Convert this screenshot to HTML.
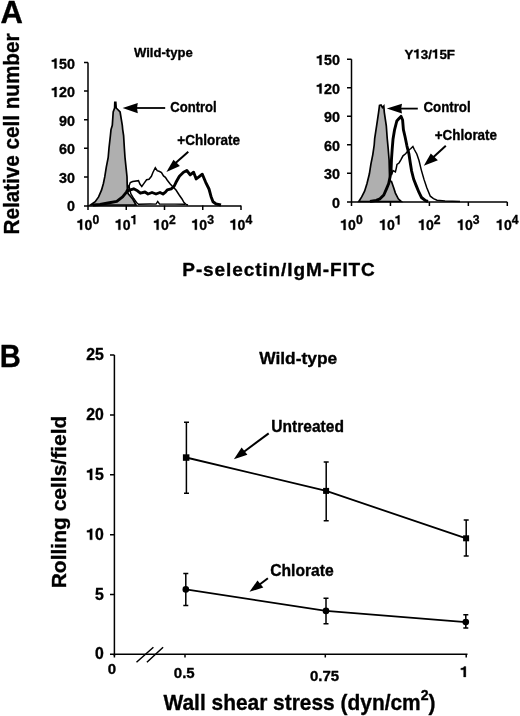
<!DOCTYPE html>
<html><head><meta charset="utf-8"><style>
html,body{margin:0;padding:0;background:#fff;width:520px;height:716px;overflow:hidden}
svg{display:block;will-change:transform}
text{font-family:"Liberation Sans",sans-serif;font-weight:bold;fill:#000;stroke:#000;stroke-width:0.35px;stroke-linejoin:round}
.o{fill:none;stroke:none}
</style></head><body>
<svg width="520" height="716" viewBox="0 0 520 716">
<!-- Panel letters -->
<text x="0.5" y="22.6" font-size="31">A</text>
<text transform="translate(-0.3,367.1) scale(0.94,1)" font-size="31">B</text>

<!-- ===== Panel A left ===== -->
<text transform="translate(19,134) rotate(-90)" text-anchor="middle" font-size="22.5" textLength="201" lengthAdjust="spacingAndGlyphs">Relative cell number</text>
<text x="134" y="56.8" font-size="13.3" textLength="58.7" lengthAdjust="spacingAndGlyphs">Wild-type</text>
<g stroke="#000" stroke-width="1.5" fill="none">
  <path d="M88,62.5V206.2M84,62.5H88M84,91.1H88M84,119.7H88M84,148.3H88M84,176.9H88M84,205.9H241"/>
  <path d="M88,205.5V210M126.25,205.5V210M164.5,205.5V210M202.75,205.5V210M241,205.5V210"/>
</g>
<g font-size="14.3" text-anchor="end">
  <text x="75" y="68.5"><tspan class="o">1</tspan>50</text><text x="75" y="97"><tspan class="o">1</tspan>20</text><text x="75" y="125.5">90</text>
  <text x="75" y="154">60</text><text x="75" y="182.5">30</text><text x="75" y="211">0</text>
</g>
<g font-size="15">
  <text x="88" y="229.8" text-anchor="middle" textLength="22.4" lengthAdjust="spacingAndGlyphs"><tspan class="o">1</tspan>0<tspan font-size="13" dy="-5.6">0</tspan></text>
  <text x="126.25" y="229.8" text-anchor="middle" textLength="22.4" lengthAdjust="spacingAndGlyphs"><tspan class="o">1</tspan>0<tspan font-size="13" dy="-5.6"><tspan class="o">1</tspan></tspan></text>
  <text x="164.5" y="229.8" text-anchor="middle" textLength="22.4" lengthAdjust="spacingAndGlyphs"><tspan class="o">1</tspan>0<tspan font-size="13" dy="-5.6">2</tspan></text>
  <text x="202.75" y="229.8" text-anchor="middle" textLength="22.4" lengthAdjust="spacingAndGlyphs"><tspan class="o">1</tspan>0<tspan font-size="13" dy="-5.6">3</tspan></text>
  <text x="241" y="229.8" text-anchor="middle" textLength="22.4" lengthAdjust="spacingAndGlyphs"><tspan class="o">1</tspan>0<tspan font-size="13" dy="-5.6">4</tspan></text>
</g>
<!-- grey control histogram -->
<path d="M90.5,205 L95.2,201.7 L98.6,196.9 L101.5,190.2 L103.4,183.5 L104.8,176.7 L106.3,167.1 L108.2,157.5 L109,148 L110.4,135.7 L111,129.6 L112.3,125.3 L113.2,112 L114.6,108 L114.8,102.4 L115.8,102.4 L116.2,108 L120.1,112 L122.3,125.3 L122.7,129.6 L123.6,135.7 L124.4,148.7 L125,157.5 L126,167.1 L127,176.7 L127.2,185 L127.5,192 L128.4,194 L131,197 L133,199.5 L136,205 Z" fill="#afafaf" stroke="#000" stroke-width="1.7"/>
<!-- thin lower curve -->
<path d="M128.8,185 L130.8,193.7 L133.7,198.5 L136.5,202.5 L138.5,204.2 L150,204 L156,204.1 L157.7,201.4 L159.5,204 L175,204.1 L185,204.3" fill="none" stroke="#000" stroke-width="1.4"/>
<!-- thin chlorate curve -->
<path d="M126,191 L127.9,188.8 L130.3,182.6 L132.7,181.6 L138.5,180.7 L139.9,184 L141.8,186.4 L143.8,183.6 L146.6,179.7 L149,179.2 L151.4,176.3 L152.9,172.5 L155.3,167.7 L157.2,170.6 L159.6,171.5 L161.5,172.5 L163.5,175.9 L165.4,177.3 L167.3,180.2 L170.2,184 L173.1,186.9 L176,190 L179.2,195 L182,199 L184,202.5 L186,204.4 L188,205" fill="none" stroke="#000" stroke-width="1.5"/>
<!-- thick untreated curve -->
<path d="M93,205 L100,204.5 L108,203 L116.8,201.3 L122.6,196.9 L126.5,192.1 L128.8,190.3 L133.7,188.8 L137.5,190.8 L140.4,193.2 L145,192 L148,194 L152,192.5 L156,194 L160,192.5 L163,194 L165.4,192.2 L167.3,189.8 L171.2,188.8 L174,186.5 L176,182.3 L179.4,176.2 L183.5,172.2 L186.8,170.5 L190.2,174.9 L193.6,172.2 L196.2,178.9 L198.9,176.9 L202.3,174.2 L205.7,182.3 L209,189 L211,196.4 L213,201.8 L215.8,203.8 L221,205" fill="none" stroke="#000" stroke-width="2.9" stroke-linejoin="round"/>
<!-- Control arrow -->
<path d="M136,108H165.2" stroke="#000" stroke-width="1.8"/>
<path d="M122.6,108L137.8,102.9L137,108L137.8,113.2Z" fill="#000"/>
<text x="170.3" y="111.8" font-size="14" textLength="46.4" lengthAdjust="spacingAndGlyphs">Control</text>
<!-- Chlorate arrow -->
<path d="M188.3,151.7L175,163.5" stroke="#000" stroke-width="2"/>
<path d="M166.4,171.9L173.5,159.8L179.9,165.9Z" fill="#000"/>
<text x="177.3" y="145.2" font-size="14" textLength="62.6" lengthAdjust="spacingAndGlyphs">+Chlorate</text>

<!-- ===== Panel A right ===== -->
<text x="404.5" y="58.5" font-size="13.3" textLength="50.5" lengthAdjust="spacingAndGlyphs">Y<tspan class="o">1</tspan>3/<tspan class="o">1</tspan>5F</text>
<g stroke="#000" stroke-width="1.5" fill="none">
  <path d="M351.5,59.2V201.9M347,59.2H351.5M347,87.7H351.5M347,116.2H351.5M347,144.8H351.5M347,173.3H351.5M347,201.9H507.3"/>
  <path d="M351.5,201.9V206M390.45,201.9V206M429.4,201.9V206M468.35,201.9V206M507.3,201.9V206"/>
</g>
<g font-size="14.3" text-anchor="end">
  <text x="340" y="65"><tspan class="o">1</tspan>50</text><text x="340" y="93.5"><tspan class="o">1</tspan>20</text><text x="340" y="122">90</text>
  <text x="340" y="150.5">60</text><text x="340" y="179">30</text><text x="340" y="207.5">0</text>
</g>
<g font-size="15">
  <text x="351.5" y="230.0" text-anchor="middle" textLength="22.4" lengthAdjust="spacingAndGlyphs"><tspan class="o">1</tspan>0<tspan font-size="13" dy="-5.6">0</tspan></text>
  <text x="390.45" y="230.0" text-anchor="middle" textLength="22.4" lengthAdjust="spacingAndGlyphs"><tspan class="o">1</tspan>0<tspan font-size="13" dy="-5.6"><tspan class="o">1</tspan></tspan></text>
  <text x="429.4" y="230.0" text-anchor="middle" textLength="22.4" lengthAdjust="spacingAndGlyphs"><tspan class="o">1</tspan>0<tspan font-size="13" dy="-5.6">2</tspan></text>
  <text x="468.35" y="230.0" text-anchor="middle" textLength="22.4" lengthAdjust="spacingAndGlyphs"><tspan class="o">1</tspan>0<tspan font-size="13" dy="-5.6">3</tspan></text>
  <text x="507.3" y="230.0" text-anchor="middle" textLength="22.4" lengthAdjust="spacingAndGlyphs"><tspan class="o">1</tspan>0<tspan font-size="13" dy="-5.6">4</tspan></text>
</g>
<path d="M358.8,201.5 L361.7,196.9 L364.6,191.2 L367,183.5 L369.4,173.8 L370.9,164.2 L372.8,154.6 L374.2,145 L374.7,138.3 L376.6,125.8 L378.6,112.3 L379.5,105.4 L381,105 L382.5,107.5 L383.8,106 L384.3,112.3 L386.3,125.8 L387.2,138.3 L388.2,148.8 L389.1,160 L389.5,175 L390.5,181.5 L391.5,181.5 L393.5,187.3 L395.4,193.1 L398.3,198.8 L401.2,201.5 Z" fill="#afafaf" stroke="#000" stroke-width="1.7"/>
<path d="M391.5,175 L393,170.5 L395.4,171.9 L396.3,168.1 L397,164.4 L399,163 L401,159.7 L403,155.8 L405.6,153.8 L408.3,150.5 L410.9,148.5 L412.9,146.5 L414.3,149.5 L416.8,154 L419,160.5 L421.2,169.6 L424,179.4 L426.8,187.8 L430.3,196.2 L433.5,198.6 L437,200.2 L445,201.1 L460,201.4" fill="none" stroke="#000" stroke-width="1.5"/>
<path d="M370,201.5 L376.2,200.3 L380,198.8 L383.8,195 L386.7,188.3 L388.7,183.5 L390.1,176.7 L391,171.9 L391.5,159 L392.2,149 L393,139.3 L394.6,129.6 L396.8,121 L399,118.5 L401,116.4 L402.6,120 L403.4,129.6 L405,136.5 L406.9,145.8 L408.9,153.8 L410.3,163 L411.6,171 L413.6,179 L416.2,185.6 L418.9,192.2 L421.5,197.5 L425.5,200.7 L428,201.5" fill="none" stroke="#000" stroke-width="2.9" stroke-linejoin="round"/>
<path d="M400,108.6H417.8" stroke="#000" stroke-width="1.8"/>
<path d="M386.8,108.6L402,103.8L401.2,108.6L402,113.4Z" fill="#000"/>
<text x="423.4" y="111.8" font-size="14" textLength="47.3" lengthAdjust="spacingAndGlyphs">Control</text>
<path d="M445.8,145.8L433,157.5" stroke="#000" stroke-width="2"/>
<path d="M423.8,165.8L430.8,153.5L437.9,160.2Z" fill="#000"/>
<text x="434.8" y="140.3" font-size="14" textLength="62.2" lengthAdjust="spacingAndGlyphs">+Chlorate</text>

<text x="182.3" y="276.2" font-size="19" textLength="192.5" lengthAdjust="spacing">P-selectin/IgM-FITC</text>

<!-- ===== Panel B ===== -->
<text transform="translate(66,502) rotate(-90)" text-anchor="middle" font-size="21">Rolling cells/field</text>
<text x="259.2" y="364.2" font-size="17.2" textLength="78" lengthAdjust="spacingAndGlyphs">Wild-type</text>
<g stroke="#000" stroke-width="1.5" fill="none">
  <path d="M114.4,355V656M110,355H114.4M110,414.9H114.4M110,474.8H114.4M110,534.7H114.4M110,594.6H114.4M110,654.2H467.5"/>
  <path d="M114.4,654.2V657.5M185,654.2V657.5M325.3,654.2V657.5M466.2,654.2V657.5"/>
  <path d="M136.5,662.3L153.4,647.3M146.9,662.3L163.1,647.3"/>
</g>
<g font-size="15.8" text-anchor="end">
  <text x="103.8" y="360">25</text><text x="103.8" y="420">20</text><text x="103.8" y="479.9"><tspan class="o">1</tspan>5</text>
  <text x="103.8" y="539.8"><tspan class="o">1</tspan>0</text><text x="103.8" y="599.6">5</text><text x="103.8" y="659.3">0</text>
</g>
<g font-size="15" text-anchor="middle">
  <text x="111.8" y="673.8">0</text>
  <text x="184.3" y="677.7">0.5</text>
  <text x="324.6" y="680.6">0.75</text>
  <text x="464.3" y="677"><tspan class="o">1</tspan></text>
</g>
<text x="163.5" y="710" font-size="22.2" textLength="272" lengthAdjust="spacingAndGlyphs">Wall shear stress (dyn/cm<tspan font-size="15" dy="-10">2</tspan><tspan dy="10">)</tspan></text>

<!-- data: untreated -->
<g stroke="#000" stroke-width="1.5" fill="none">
  <path d="M186.4,422.2V493.3M184,422.2H189M184,493.3H189"/>
  <path d="M326.2,462V520.7M323.7,462H328.7M323.7,520.7H328.7"/>
  <path d="M466.2,519.9V556M463.7,519.9H468.7M463.7,556H468.7"/>
  <path d="M186.1,457.5L326.2,490.9L466.2,538.4" stroke-width="1.8"/>
  <path d="M185.8,573.6V605.6M183.3,573.6H188.3M183.3,605.6H188.3"/>
  <path d="M326,598.2V623.8M323.5,598.2H328.5M323.5,623.8H328.5"/>
  <path d="M465.8,614.8V628.1M463.3,614.8H468.3M463.3,628.1H468.3"/>
  <path d="M185.8,589.4L326,610.9L465.8,622.1" stroke-width="1.8"/>
</g>
<rect x="182.9" y="454.3" width="6.5" height="6.5" fill="#000"/>
<rect x="323.1" y="487.9" width="6" height="6" fill="#000"/>
<rect x="463.1" y="535.3" width="6" height="6" fill="#000"/>
<circle cx="185.8" cy="589.4" r="3.3" fill="#000"/>
<circle cx="326" cy="610.9" r="3.3" fill="#000"/>
<circle cx="465.8" cy="622.1" r="3.3" fill="#000"/>
<!-- labels and arrows -->
<text x="271.3" y="432.3" font-size="15.6" textLength="72.6" lengthAdjust="spacingAndGlyphs">Untreated</text>
<path d="M268.7,433.4L243,452.5" stroke="#000" stroke-width="2"/>
<path d="M233.9,459.2L241.6,447.4L247.4,454.7Z" fill="#000"/>
<text x="270.2" y="575.8" font-size="15.6" textLength="63.6" lengthAdjust="spacingAndGlyphs">Chlorate</text>
<path d="M267.9,578.3L259,585" stroke="#000" stroke-width="2"/>
<path d="M249.5,591.8L257.5,580.5L263.3,587.5Z" fill="#000"/>
<g id="ones" fill="#000" stroke="#000" stroke-width="20"><path transform="translate(51.14,68.50) scale(0.01430,-0.01430)" d="M232,0L382,0L382,700L262,700C244,640 190,596 45,586L45,476L232,476Z"/><path transform="translate(51.14,97.00) scale(0.01430,-0.01430)" d="M232,0L382,0L382,700L262,700C244,640 190,596 45,586L45,476L232,476Z"/><path transform="translate(76.80,229.80) scale(0.01405,-0.01500)" d="M232,0L382,0L382,700L262,700C244,640 190,596 45,586L45,476L232,476Z"/><path transform="translate(115.05,229.80) scale(0.01405,-0.01500)" d="M232,0L382,0L382,700L262,700C244,640 190,596 45,586L45,476L232,476Z"/><path transform="translate(130.68,224.20) scale(0.01218,-0.01300)" d="M232,0L382,0L382,700L262,700C244,640 190,596 45,586L45,476L232,476Z"/><path transform="translate(153.30,229.80) scale(0.01405,-0.01500)" d="M232,0L382,0L382,700L262,700C244,640 190,596 45,586L45,476L232,476Z"/><path transform="translate(191.55,229.80) scale(0.01405,-0.01500)" d="M232,0L382,0L382,700L262,700C244,640 190,596 45,586L45,476L232,476Z"/><path transform="translate(229.80,229.80) scale(0.01405,-0.01500)" d="M232,0L382,0L382,700L262,700C244,640 190,596 45,586L45,476L232,476Z"/><path transform="translate(413.41,58.50) scale(0.01337,-0.01330)" d="M232,0L382,0L382,700L262,700C244,640 190,596 45,586L45,476L232,476Z"/><path transform="translate(431.98,58.50) scale(0.01337,-0.01330)" d="M232,0L382,0L382,700L262,700C244,640 190,596 45,586L45,476L232,476Z"/><path transform="translate(316.14,65.00) scale(0.01430,-0.01430)" d="M232,0L382,0L382,700L262,700C244,640 190,596 45,586L45,476L232,476Z"/><path transform="translate(316.14,93.50) scale(0.01430,-0.01430)" d="M232,0L382,0L382,700L262,700C244,640 190,596 45,586L45,476L232,476Z"/><path transform="translate(340.30,230.00) scale(0.01405,-0.01500)" d="M232,0L382,0L382,700L262,700C244,640 190,596 45,586L45,476L232,476Z"/><path transform="translate(379.25,230.00) scale(0.01405,-0.01500)" d="M232,0L382,0L382,700L262,700C244,640 190,596 45,586L45,476L232,476Z"/><path transform="translate(394.88,224.40) scale(0.01218,-0.01300)" d="M232,0L382,0L382,700L262,700C244,640 190,596 45,586L45,476L232,476Z"/><path transform="translate(418.20,230.00) scale(0.01405,-0.01500)" d="M232,0L382,0L382,700L262,700C244,640 190,596 45,586L45,476L232,476Z"/><path transform="translate(457.15,230.00) scale(0.01405,-0.01500)" d="M232,0L382,0L382,700L262,700C244,640 190,596 45,586L45,476L232,476Z"/><path transform="translate(496.10,230.00) scale(0.01405,-0.01500)" d="M232,0L382,0L382,700L262,700C244,640 190,596 45,586L45,476L232,476Z"/><path transform="translate(86.21,479.90) scale(0.01582,-0.01580)" d="M232,0L382,0L382,700L262,700C244,640 190,596 45,586L45,476L232,476Z"/><path transform="translate(86.21,539.80) scale(0.01582,-0.01580)" d="M232,0L382,0L382,700L262,700C244,640 190,596 45,586L45,476L232,476Z"/><path transform="translate(460.13,677.00) scale(0.01501,-0.01500)" d="M232,0L382,0L382,700L262,700C244,640 190,596 45,586L45,476L232,476Z"/></g>
</svg>
</body></html>
